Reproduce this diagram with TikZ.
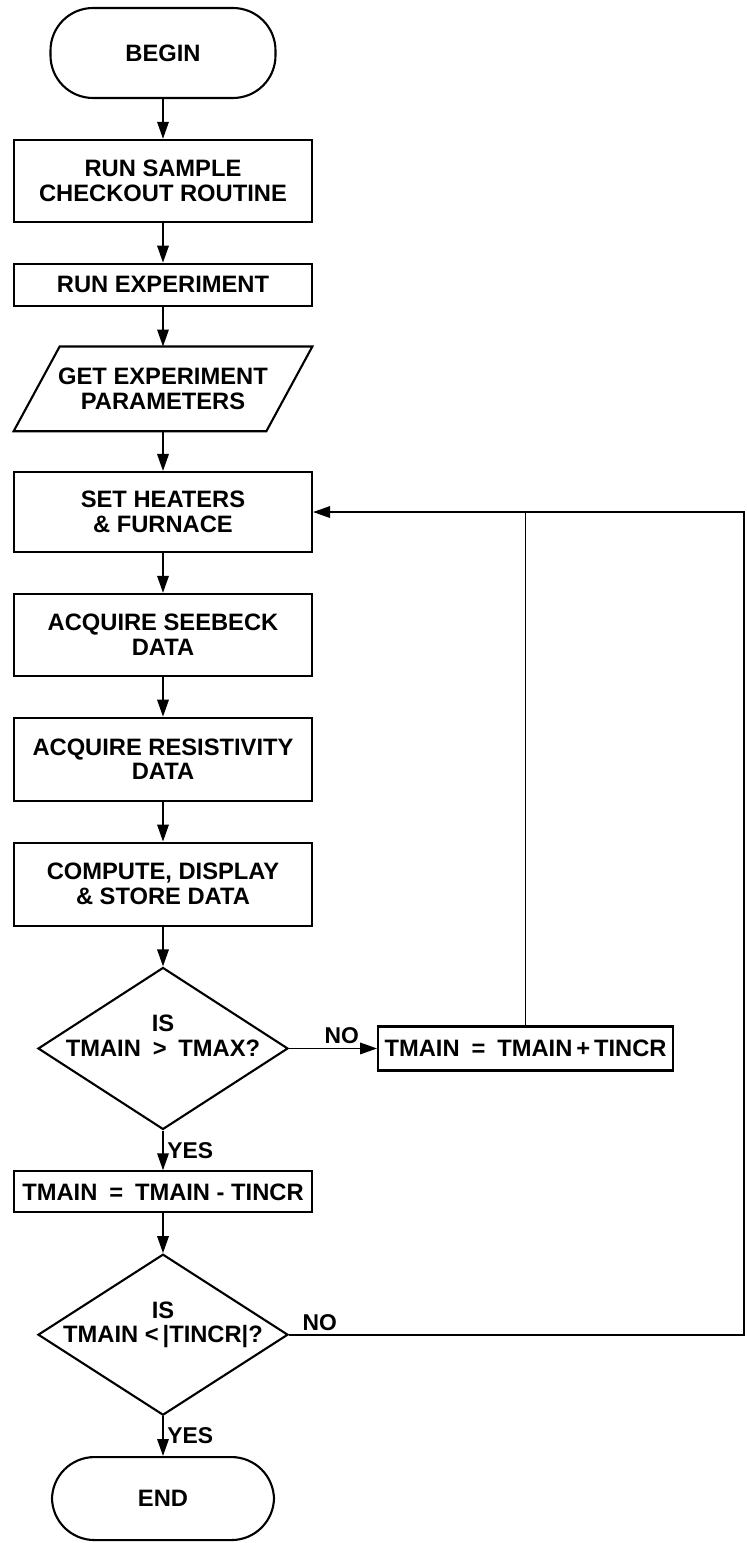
\documentclass[tikz,border=0pt]{standalone}
\usepackage{fontspec}
\setmainfont{Liberation Sans}
\usepackage{tikz}
\usetikzlibrary{
    shapes.geometric,
    arrows.meta,
    positioning
}
\newcommand{\chartfont}{\fontsize{13.5}{14}\selectfont\bfseries}
\newcommand{\labelfont}{\fontsize{13}{13}\selectfont\bfseries}
\newcommand{\lowpad}{\rule[-0.5cm]{0pt}{0pt}}
\tikzset{
    terminal/.style={
        rectangle,
        draw=black,
        rounded corners=0.85cm,
        minimum width=4.5cm,
        minimum height=1.8cm,
        font=\chartfont,
        line width=1.2pt
    },
    process/.style={
        rectangle,
        draw=black,
        minimum width=5.96cm,
        minimum height=1.64cm,
        align=center,
        font=\chartfont,
        line width=1.2pt
    },
    ioblock/.style={
        rectangle,
        minimum width=5.96cm,
        minimum height=1.68cm,
        align=center,
        font=\chartfont
    },
    outline/.style={
        draw=black,
        line width=1.2pt
    },
    decision/.style={
        diamond,
        draw=black,
        aspect=1.55,
        inner xsep=-0.8cm,
        inner ysep=0pt,
        minimum width=5cm,
        minimum height=3.24cm,
        align=center,
        font=\chartfont,
        line width=1.2pt
    },
    arrow/.style={
        -{Triangle[length=3.4mm,width=2.3mm]},
        draw=black,
        line width=1pt
    },
    flowlabel/.style={
        font=\labelfont,
        inner sep=2pt
    }
}

\begin{document}
\begin{tikzpicture}[
    node distance=0.795cm
]
    \useasboundingbox (0,0) rectangle (14.92,-30.86);

    \node[terminal] (begin) at (3.26,-1.06) {BEGIN};
    \node[process, below=of begin] (checkout) {RUN SAMPLE\\CHECKOUT ROUTINE};
    \node[process, below=of checkout, minimum height=0.84cm] (runexp) {RUN EXPERIMENT};
    \node[ioblock, below=of runexp] (params) {GET EXPERIMENT\\PARAMETERS};
    \node[process, below=of params, minimum height=1.6cm] (heaters) {SET HEATERS\\\& FURNACE};
    \node[process, below=of heaters] (seebeck) {ACQUIRE SEEBECK\\DATA};
    \node[process, below=of seebeck, minimum height=1.66cm] (resist) {ACQUIRE RESISTIVITY\\DATA};
    \node[process, below=of resist, minimum height=1.66cm] (compute) {COMPUTE, DISPLAY\\\& STORE DATA};
    \node[decision, below=of compute] (tmax) {IS\\TMAIN\enspace>\enspace TMAX?\lowpad};
    \node[process, below=of tmax, minimum height=0.82cm] (decr) {TMAIN\enspace=\enspace TMAIN - TINCR};
    \node[decision, below=of decr, minimum height=3.22cm] (tmin) {IS\\TMAIN <\,|TINCR|?\lowpad};
    \node[terminal, below=of tmin, minimum width=4.44cm, minimum height=1.66cm] (end) {END};

    \node[process, right=1.76cm of tmax, minimum width=5.9cm, minimum height=0.88cm] (incr) {TMAIN\enspace=\enspace TMAIN\,+\,TINCR};

    % Input parallelogram
    \draw[outline] ([xshift=0.92cm]params.north west) -- (params.north east)
        -- ([xshift=-0.92cm]params.south east) -- (params.south west) -- cycle;

    \coordinate (redge) at (14.88,0);

    % Arrows
    \foreach \from/\to in {
        begin/checkout,
        checkout/runexp,
        runexp/params,
        params/heaters,
        heaters/seebeck,
        seebeck/resist,
        resist/compute,
        compute/tmax,
        decr/tmin%
    } {
        \draw[arrow] (\from) -- (\to);
    }

    % Branches
    \draw[arrow] (tmax.east) -- node[flowlabel, above, pos=0.6] (no1) {NO} (incr.west);
    \draw[arrow] (tmax.south) -- node[flowlabel, right] (yes1) {YES} (decr.north);
    \draw[arrow] (tmin.south) -- node[flowlabel, right] (yes2) {YES} (end.north);

    % Loop back
    \draw[line width=1pt] (incr.north) -- (incr.north |- heaters.east);
    \draw[arrow] (tmin.east) -- node[flowlabel, above right, pos=0.02] (no2) {NO} (tmin.east -| redge) |- (heaters.east);
\end{tikzpicture}
\end{document}
